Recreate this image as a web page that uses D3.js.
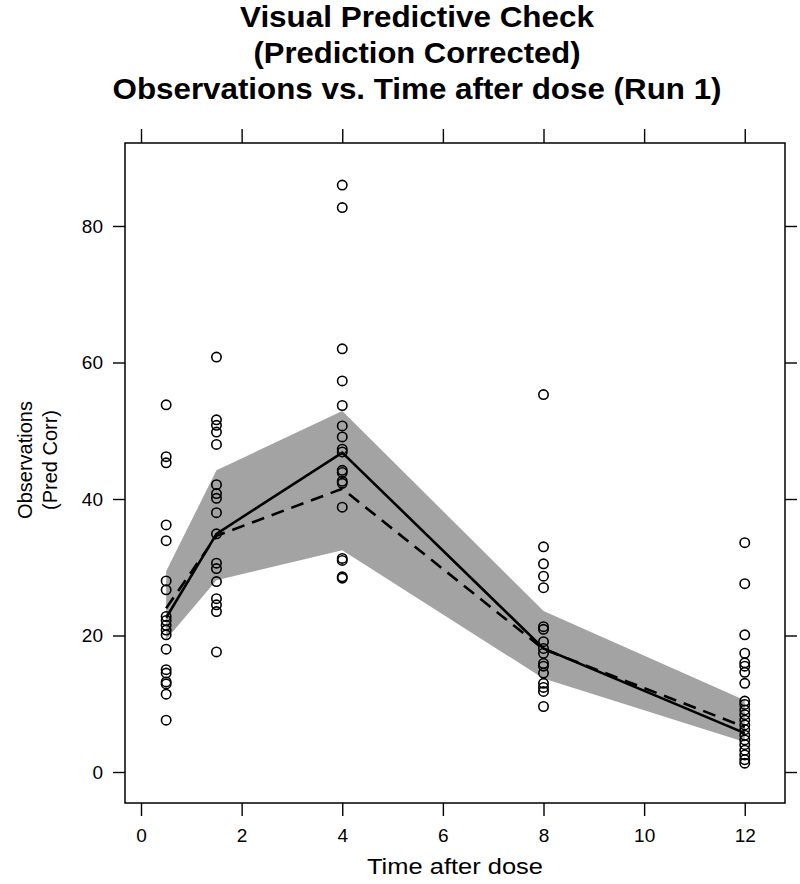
<!DOCTYPE html>
<html><head><meta charset="utf-8">
<script src="https://cdn.jsdelivr.net/npm/d3@7"></script>
<style>body{margin:0;background:#fff}svg{display:block}</style>
</head><body>
<svg id="c" width="800" height="884"></svg>
<script>
const times = [0.5, 1.5, 4, 8, 12];
const obs05 = [53.8, 46.2, 45.3, 36.2, 33.9, 28.0, 26.7, 22.8, 22.2, 21.5, 20.8, 20.1, 18.0, 15.0, 14.5, 13.2, 12.9, 11.4, 7.6];
const obs15 = [60.8, 51.6, 50.8, 49.8, 48.0, 42.1, 40.8, 40.1, 38.0, 34.9, 30.6, 29.8, 27.9, 25.4, 24.5, 23.5, 17.6];
const obs4 = [86.0, 82.7, 62.0, 57.3, 53.7, 50.7, 49.1, 47.3, 46.9, 44.2, 43.9, 42.6, 42.3, 38.8, 31.3, 31.0, 28.6, 28.4];
const obs8 = [55.3, 33.0, 30.5, 28.7, 27.0, 21.3, 20.9, 19.1, 18.1, 17.4, 15.9, 15.5, 14.5, 13.0, 12.4, 11.8, 9.6];
const obs12 = [33.6, 27.6, 20.1, 17.4, 16.0, 15.5, 14.6, 13.0, 10.4, 9.9, 9.1, 8.4, 7.6, 6.9, 6.2, 5.4, 4.7, 4.0, 3.2, 2.5, 1.8, 1.3];
const observedMedian = [22.6, 34.9, 46.8, 18.1, 5.7];
const predictedMedian = [24.0, 34.6, 41.5, 18.0, 6.6];
const bandUpper = [29.4, 44.2, 52.9, 23.6, 10.5];
const bandLower = [19.4, 28.1, 32.5, 13.7, 4.4];
const xTicks = [0, 2, 4, 6, 8, 10, 12];
const yTicks = [0, 20, 40, 60, 80];
const titleLines = ["Visual Predictive Check", "(Prediction Corrected)", "Observations vs. Time after dose (Run 1)"];
const xLabel = "Time after dose";
const yLabelLines = ["Observations", "(Pred Corr)"];

const obsByTime = [obs05, obs15, obs4, obs8, obs12];
const points = [];
obsByTime.forEach((arr, i) => arr.forEach(v => points.push({t: times[i], v})));

const L = 125, R = 785, T = 143, B = 803;
const x = d3.scaleLinear().domain([-0.318, 12.80]).range([L, R]);
const y = d3.scaleLinear().domain([-4.54, 92.16]).range([B, T]);

const svg = d3.select("#c");
const font = "'Liberation Sans', Arial, sans-serif";

// title
const titleW = [354, 327, 609];
titleLines.forEach((s, i) => {
  svg.append("text").attr("x", 417).attr("y", 27 + i * 36)
    .attr("text-anchor", "middle").attr("font-family", font)
    .attr("font-weight", "bold").attr("font-size", 30)
    .attr("textLength", titleW[i]).attr("lengthAdjust", "spacingAndGlyphs")
    .text(s);
});

// band
const bandData = times.map((t, i) => ({t, lo: bandLower[i], hi: bandUpper[i]}));
svg.append("path").datum(bandData)
  .attr("d", d3.area().x(d => x(d.t)).y0(d => y(d.lo)).y1(d => y(d.hi)))
  .attr("fill", "#a3a3a3").attr("stroke", "none");

// points
svg.append("g").selectAll("circle").data(points).enter().append("circle")
  .attr("cx", d => x(d.t)).attr("cy", d => y(d.v)).attr("r", 4.7)
  .attr("fill", "none").attr("stroke", "#000").attr("stroke-width", 1.6);

// lines
const line = d3.line().x(d => x(d.t)).y(d => y(d.v));
svg.append("path").datum(times.map((t, i) => ({t, v: predictedMedian[i]})))
  .attr("d", line).attr("fill", "none").attr("stroke", "#000")
  .attr("stroke-width", 2.6).attr("stroke-dasharray", "13,8");
svg.append("path").datum(times.map((t, i) => ({t, v: observedMedian[i]})))
  .attr("d", line).attr("fill", "none").attr("stroke", "#000")
  .attr("stroke-width", 2.6);

// axes
const tickStyle = g => {
  g.select(".domain").remove();
  g.selectAll(".tick line").attr("stroke", "#000").attr("stroke-width", 1.4);
  g.selectAll(".tick text").attr("font-family", font).attr("font-size", 19).attr("fill", "#000");
};
svg.append("g").attr("transform", `translate(0,${B})`)
  .call(d3.axisBottom(x).tickValues(xTicks).tickSize(13).tickPadding(13)).call(tickStyle);
svg.append("g").attr("transform", `translate(0,${T})`)
  .call(d3.axisTop(x).tickValues(xTicks).tickSize(14).tickFormat("")).call(tickStyle);
svg.append("g").attr("transform", `translate(${L},0)`)
  .call(d3.axisLeft(y).tickValues(yTicks).tickSize(12).tickPadding(10)).call(tickStyle);
svg.append("g").attr("transform", `translate(${R},0)`)
  .call(d3.axisRight(y).tickValues(yTicks).tickSize(12).tickFormat("")).call(tickStyle);

// frame
svg.append("rect").attr("x", L).attr("y", T).attr("width", R - L).attr("height", B - T)
  .attr("fill", "none").attr("stroke", "#000").attr("stroke-width", 1.5);

// axis labels
svg.append("text").attr("x", 455).attr("y", 874).attr("text-anchor", "middle")
  .attr("font-family", font).attr("font-size", 22)
  .attr("textLength", 176).attr("lengthAdjust", "spacingAndGlyphs").text(xLabel);
yLabelLines.forEach((s, i) => {
  svg.append("text").attr("transform", `translate(${32 + i * 25},460) rotate(-90)`)
    .attr("text-anchor", "middle").attr("font-family", font).attr("font-size", 20).text(s);
});
</script>
</body></html>
